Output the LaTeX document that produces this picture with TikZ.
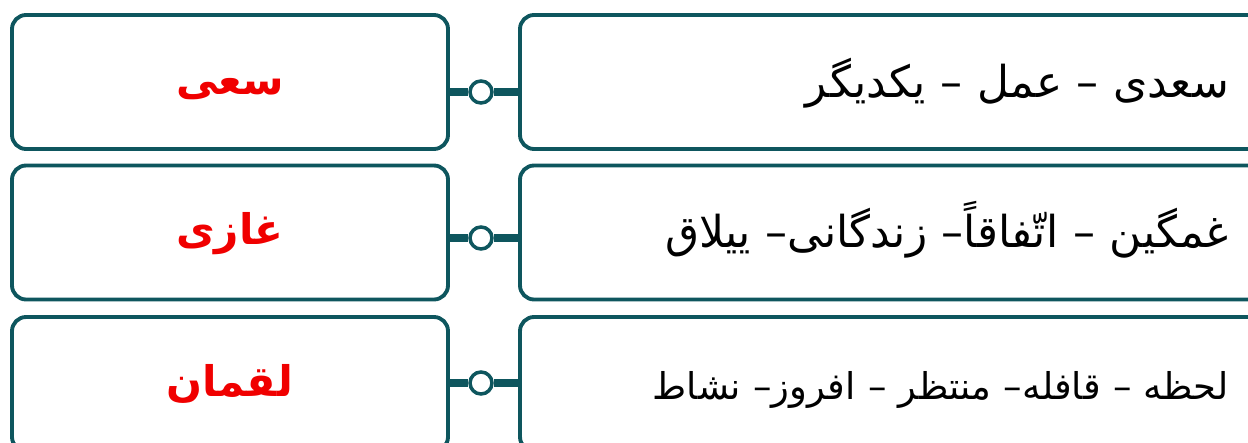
\documentclass[tikz,border=0pt]{standalone}
\usepackage{fontspec}
\newfontfamily\arabicfont[Script=Arabic]{DejaVu Sans}
\TeXXeTstate=1
\usepackage{tikz}
\usetikzlibrary{positioning}
\definecolor{frame}{RGB}{14,86,94}
\definecolor{answer}{RGB}{240,0,0}
\tikzset{
        leftbox/.style={draw=frame, line width=2.2pt, rounded corners=8pt, minimum width=8.72cm, minimum height=2.68cm, text height=0.7cm, text depth=0.22cm, align=center, text=answer, font=\arabicfont\bfseries\fontsize{24}{28}\selectfont},
        rightbox/.style={draw=frame, line width=2.2pt, rounded corners=8pt, minimum width=14.96cm, minimum height=2.68cm, text height=0.8cm, text depth=0.2cm, text width=13.4cm, align=right, font=\arabicfont\fontsize{25}{30}\selectfont},
        knob/.style={circle, draw=frame, fill=white, line width=2pt, minimum size=0.44cm, inner sep=0pt},
        link/.style={draw=frame, line width=4pt}
    }

\begin{document}
\begin{tikzpicture}
    \useasboundingbox (0,0) rectangle (24.96,-8.86);
    \clip (0,0) rectangle (24.96,-8.86);

    % names on the left
    \node[leftbox] (s1) at (4.6,-1.64) {\beginR سعی\endR};
    \node[leftbox] (s2) at (4.6,-4.65) {\beginR غازی\endR};
    \node[leftbox] (s3) at (4.6,-7.68) {\beginR لقمان\endR};

    % word lists on the right
    \node[rightbox] (w1) at (17.88,-1.64) {\beginR سعدی – عمل – یکدیگر\endR};
    \node[rightbox] (w2) at (17.88,-4.65) {\beginR غمگین – اتّفاقاً– زندگانی– ییلاق\endR};
    \node[rightbox, font=\arabicfont\fontsize{21}{30}\selectfont] (w3) at (17.88,-7.68) {\beginR لحظه – قافله– منتظر – افروز– نشاط\endR};

    % small joints between the boxes
    \node[knob] (k1) at (9.62,-1.84) {};
    \node[knob] (k2) at (9.62,-4.76) {};
    \node[knob] (k3) at (9.62,-7.66) {};

    \draw[link] (s1.east |- k1) -- (k1);
    \draw[link] (k1) -- (w1.west |- k1);
    \draw[link] (s2.east |- k2) -- (k2);
    \draw[link] (k2) -- (w2.west |- k2);
    \draw[link] (s3.east |- k3) -- (k3);
    \draw[link] (k3) -- (w3.west |- k3);

\end{tikzpicture}
\end{document}
